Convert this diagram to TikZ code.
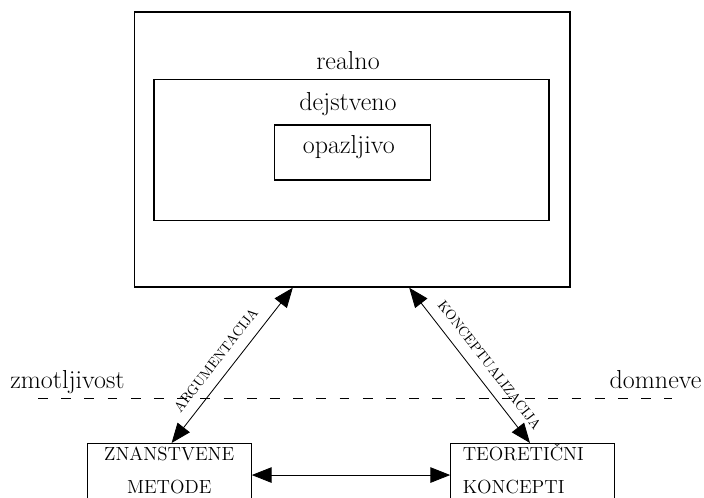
\documentclass[tikz,border=0pt]{standalone}
\usepackage{fontspec}
\usetikzlibrary{arrows.meta}

\begin{document}
\begin{tikzpicture}[
        okvir/.style={draw, line width=0.9pt, inner sep=0pt},
        puscica/.style={line width=0.6pt, {Triangle[length=14pt,width=11pt]}-{Triangle[length=14pt,width=11pt]}},
        napis/.style={font=\fontsize{18.5}{22}\selectfont},
        pojem/.style={draw, line width=0.9pt, anchor=north, text width=3.5cm, inner xsep=0.3cm, inner ysep=2.6pt, text height=9.5pt, text depth=30pt, font=\fontsize{13.5}{23.5}\selectfont},
        oznaka/.style={font=\fontsize{10}{12}\selectfont, sloped, above, inner sep=7.5pt}
    ]
        \useasboundingbox (0, 0) rectangle (17.6, 12.45);

        \node[okvir, minimum width=10.88cm, minimum height=6.875cm] (realno) at (8.81, 8.71) { };
        \node[okvir, minimum width=9.875cm, minimum height=3.54cm] (dejstveno) at (8.79, 8.70) { };
        \node[okvir, minimum width=3.89cm, minimum height=1.375cm] (opazljivo) at (8.81, 8.64) { };

        \node[napis, anchor=base] (realnotxt) at (8.7, 10.72) { realno };
        \node[napis, anchor=base] (dejstvenotxt) at (8.7, 9.675) { dejstveno };
        \node[napis, anchor=base] (opazljivotxt) at (8.72, 8.62) { opazljivo };

        \node[napis, anchor=base west, inner sep=0pt] (zmotljivost) at (0.25, 2.73) { zmotljivost };
        \node[napis, anchor=base east, inner sep=0pt] (domneve) at (17.54, 2.74) { domneve };

        \coordinate (crtaL) at (0.95, 2.49);
        \coordinate (crtaR) at (16.8, 2.49);
        \draw[line width=0.6pt, dash pattern=on 7pt off 9.5pt] (crtaL) -- (crtaR);

        \node[pojem, align=center] (metode) at (4.23, 1.375) { ZNANSTVENE\\METODE };
        \node[pojem, align=left] (koncepti) at (13.32, 1.375) { TEORETIČNI\\KONCEPTI };

        \draw[puscica] ([xshift=0.06cm]metode.north) -- node[oznaka, pos=0.47] { ARGUMENTACIJA } ([xshift=-1.49cm]realno.south);
        \draw[puscica] ([xshift=1.42cm]realno.south) -- node[oznaka, pos=0.56] { KONCEPTUALIZACIJA } ([xshift=-0.07cm]koncepti.north);
        \draw[puscica] (metode.east) -- (koncepti.west);
    \end{tikzpicture}
\end{document}
